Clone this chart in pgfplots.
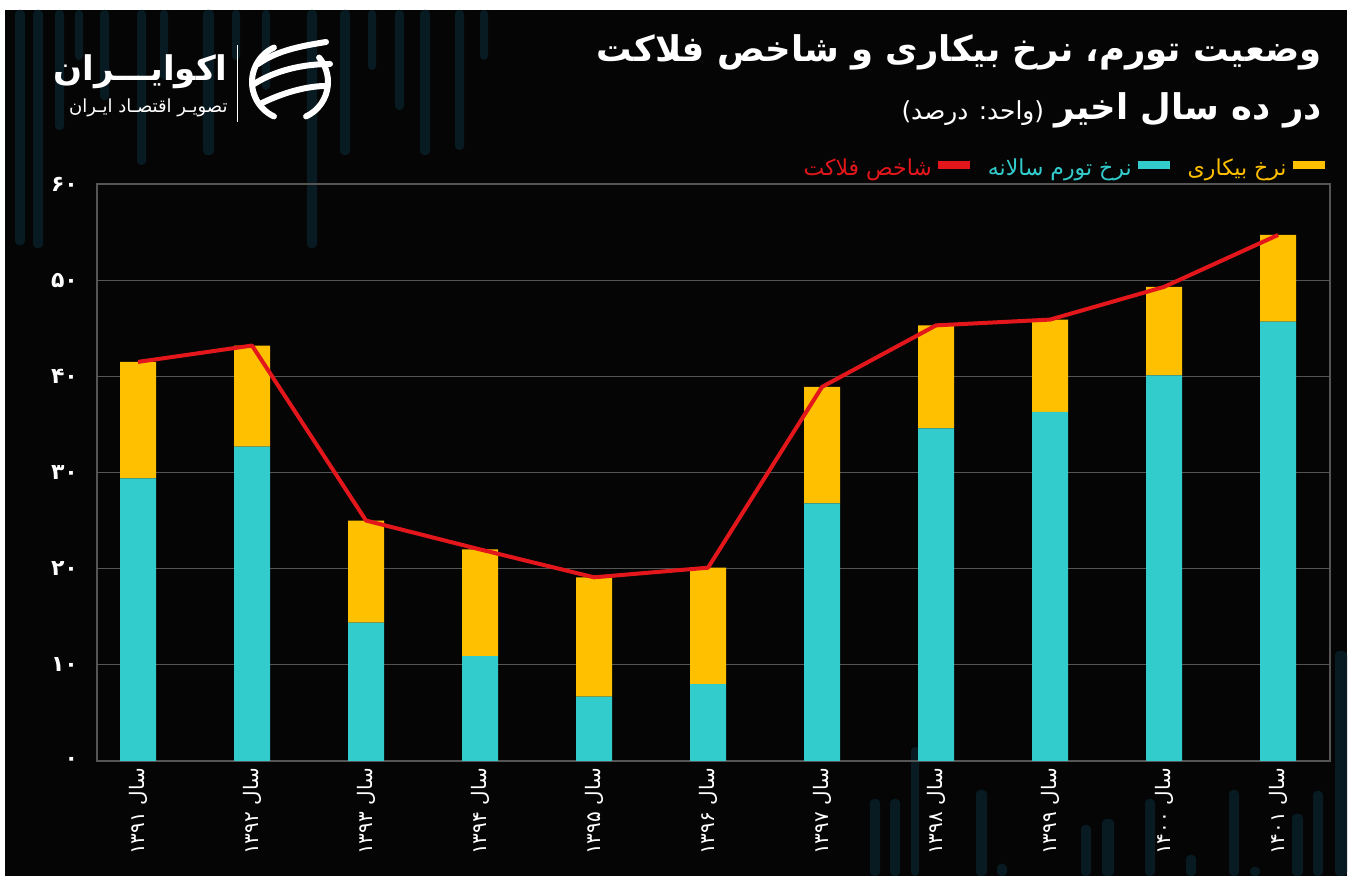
\documentclass[border=0pt]{standalone}
\usepackage{pgfplots}
\usepackage{pgfplotstable}
\pgfplotsset{compat=1.18}
\usepackage{fontspec}
\TeXXeTstate=1
\newfontfamily\arabicfont[Script=Arabic]{DejaVu Sans}
\definecolor{ccyan}{RGB}{51,204,204}
\definecolor{cyell}{RGB}{255,192,0}
\definecolor{cred}{RGB}{226,22,27}
\definecolor{cbg}{RGB}{5,5,5}
\definecolor{cgrid}{RGB}{85,85,85}
\definecolor{cstripe}{RGB}{8,26,34}
\newcommand{\swatch}[1]{\textcolor{#1}{\rule[0.3em]{16pt}{4pt}}}
\newcommand{\stripeT}[3]{\fill[cstripe,rounded corners=2] (#1,866) rectangle ({#1+#2},{876-#3});}
\newcommand{\stripeB}[3]{\fill[cstripe,rounded corners=2] (#1,0) rectangle ({#1+#2},{876-#3});}

\pgfplotstableread{
x infl unemp misery
0 29.4 12.1 41.5
1 32.7 10.5 43.2
2 14.4 10.6 25.0
3 10.9 11.1 22.0
4 6.7 12.4 19.1
5 8.0 12.1 20.1
6 26.8 12.1 38.9
7 34.6 10.7 45.3
8 36.3 9.6 45.9
9 40.1 9.2 49.3
10 45.7 9.0 54.7
}\datatable

\pgfplotsset{myaxis/.style={
  scale only axis, width=616.5pt, height=288.5pt,
  at={(48.5pt,57.5pt)}, anchor=south west,
  xmin=-0.36, xmax=10.456, ymin=0, ymax=60,
}}

\begin{document}
\begin{tikzpicture}[x=0.5pt,y=0.5pt]
\path[use as bounding box] (0,0) rectangle (1359,876);
\fill[white] (0,0) rectangle (1359,876);
\fill[cbg] (5,0) rectangle (1347,866);
% decorative stripes
\stripeT{15}{10}{245}\stripeT{33}{10}{248}\stripeT{55}{9}{130}\stripeT{75}{8}{60}
\stripeT{100}{9}{100}\stripeT{137}{9}{165}\stripeT{160}{8}{80}\stripeT{203}{11}{155}
\stripeT{232}{8}{60}\stripeT{262}{8}{90}\stripeT{307}{10}{248}\stripeT{340}{10}{155}
\stripeT{368}{8}{70}\stripeT{395}{9}{110}\stripeT{420}{10}{155}\stripeT{455}{9}{150}
\stripeT{480}{8}{60}
\stripeB{870}{10}{799}\stripeB{890}{10}{799}\stripeB{911}{8}{747}\stripeB{976}{11}{790}
\stripeB{997}{10}{864}\stripeB{1081}{10}{825}\stripeB{1102}{12}{819}\stripeB{1145}{10}{799}
\stripeB{1186}{10}{855}\stripeB{1229}{10}{790}\stripeB{1250}{10}{867}\stripeB{1292}{11}{814}
\stripeB{1313}{10}{791}\stripeB{1335}{12}{651}

% logo
\draw[white,line width=0.5pt] (237,{876-45}) -- (237,{876-122});
\begin{scope}[white,line width=3pt,line cap=round]
\draw (290,794) ++(115:38) arc (115:245:38);
\draw (290,794) ++(-65:38) arc (-65:40:38);
\draw (258,812) .. controls (278,826) and (302,830) .. (326,834);
\draw (254,792) .. controls (276,806) and (304,812) .. (330,812);
\draw (260,772) .. controls (284,784) and (308,790) .. (326,790);
\end{scope}
\node[anchor=east,inner sep=0,text=white] at (228,{876-72})
  {\arabicfont\bfseries\fontsize{17pt}{21pt}\selectfont\beginR اکوایـــران\endR};
\node[anchor=east,inner sep=0,text=white] at (228,{876-108})
  {\arabicfont\fontsize{9pt}{11pt}\selectfont\beginR تصویـر اقتصـاد ایـران\endR};

% titles
\node[anchor=east,inner sep=0,text=white] at (1322,{876-52})
  {\arabicfont\bfseries\fontsize{17.7pt}{21pt}\selectfont\beginR وضعیت تورم، نرخ بیکاری و شاخص فلاکت\endR};
\node[anchor=east,inner sep=0,text=white] at (1322,{876-110})
  {\arabicfont\beginR{\bfseries\fontsize{17.7pt}{21pt}\selectfont در ده سال اخیر}\hspace{5pt}{\fontsize{12.4pt}{14pt}\selectfont (واحد: درصد)}\endR};
% legend
\node[anchor=east,inner sep=0] at (1325,{876-170})
  {\arabicfont\fontsize{11pt}{13pt}\selectfont\textcolor{cred}{\beginR شاخص فلاکت\endR}\hspace{3pt}\swatch{cred}\hspace{9pt}\textcolor{ccyan}{\beginR نرخ تورم سالانه\endR}\hspace{3pt}\swatch{ccyan}\hspace{9pt}\textcolor{cyell}{\beginR نرخ بیکاری\endR}\hspace{3pt}\swatch{cyell}};

\begin{axis}[myaxis,
  axis line style={draw=cgrid,line width=0.6pt},
  ymajorgrids, major grid style={draw=cgrid,line width=0.6pt},
  tick style={draw=none},
  ytick={0,10,...,60},
  yticklabels={۰,۱۰,۲۰,۳۰,۴۰,۵۰,۶۰},
  yticklabel style={text=white,font=\arabicfont\bfseries\fontsize{11pt}{13pt}\selectfont,anchor=east,xshift=-6pt},
  xtick={0,...,10},
  xticklabels={{\beginR سال ۱۳۹۱\endR},{\beginR سال ۱۳۹۲\endR},{\beginR سال ۱۳۹۳\endR},{\beginR سال ۱۳۹۴\endR},{\beginR سال ۱۳۹۵\endR},{\beginR سال ۱۳۹۶\endR},{\beginR سال ۱۳۹۷\endR},{\beginR سال ۱۳۹۸\endR},{\beginR سال ۱۳۹۹\endR},{\beginR سال ۱۴۰۰\endR},{\beginR سال ۱۴۰۱\endR}},
  xticklabel style={text=white,font=\arabicfont\fontsize{10pt}{12pt}\selectfont,rotate=90,anchor=east},
  ybar stacked, bar width=0.316,
]
\addplot[fill=ccyan,draw=none] table[x=x,y=infl] {\datatable};
\addplot[fill=cyell,draw=none] table[x=x,y=unemp] {\datatable};
\end{axis}
\begin{axis}[myaxis, hide axis]
\addplot[cred,line width=2pt,line join=round] table[x=x,y=misery] {\datatable};
\end{axis}
\end{tikzpicture}
\end{document}
